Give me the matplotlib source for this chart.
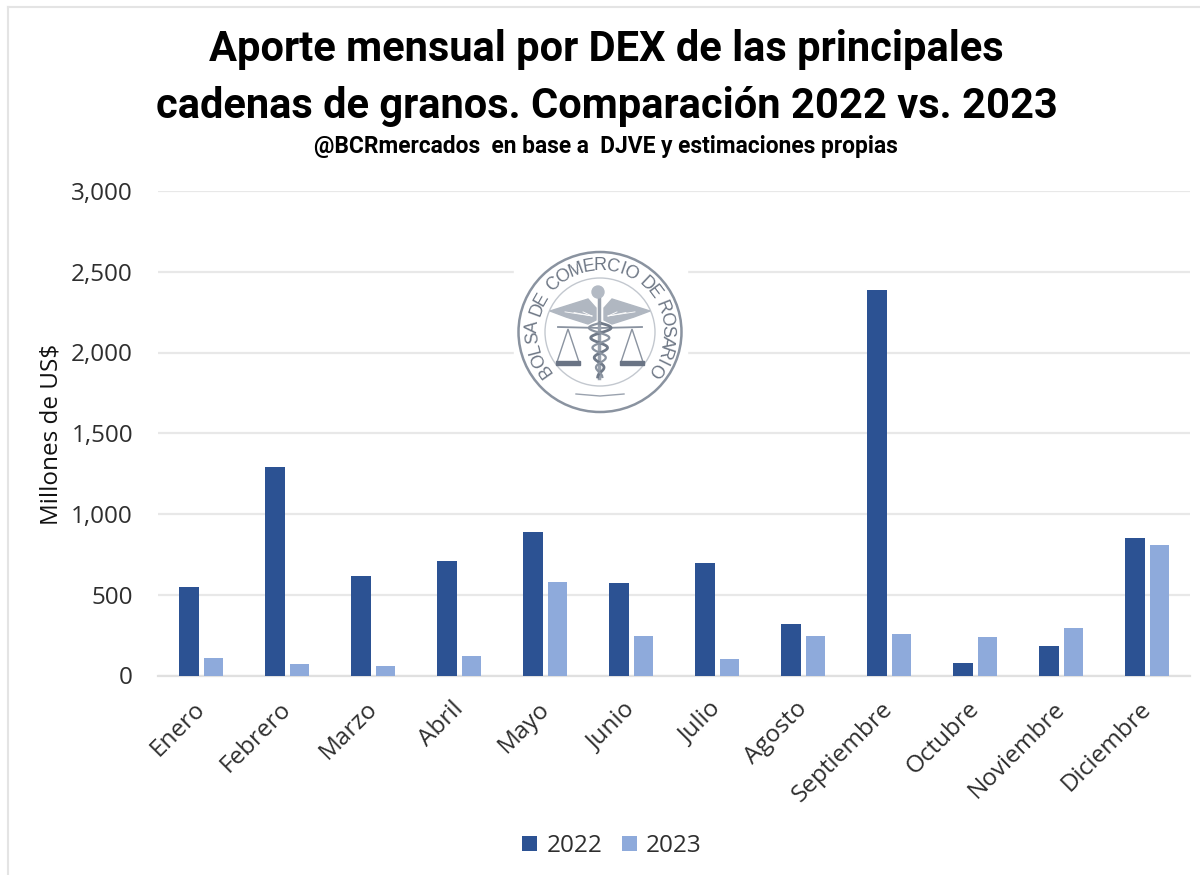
import numpy as np
import matplotlib
matplotlib.use("Agg")
import matplotlib.pyplot as plt
from matplotlib.patches import Circle, Polygon, Rectangle, Ellipse
from matplotlib.transforms import ScaledTranslation

# Data
meses = ["Enero", "Febrero", "Marzo", "Abril", "Mayo", "Junio", "Julio", "Agosto",
         "Septiembre", "Octubre", "Noviembre", "Diciembre"]
valores_2022 = [548, 1290, 616, 709, 889, 573, 697, 319, 2387, 77, 183, 851]
valores_2023 = [108, 70, 58, 120, 579, 244, 100, 244, 255, 238, 294, 808]
ticks_y = [0, 500, 1000, 1500, 2000, 2500, 3000]

titulo = "Aporte mensual por DEX de las principales\ncadenas de granos. Comparación 2022 vs. 2023"
subtitulo = "@BCRmercados  en base a  DJVE y estimaciones propias"
texto_sello = "BOLSA DE COMERCIO DE ROSARIO"

W, H = 1200, 875
TEXTO = "#2e2e2e"
fig = plt.figure(figsize=(W / 100, H / 100), dpi=100, facecolor="white")

# Main chart
ax = fig.add_axes([158 / W, 1 - 675.5 / H, 1032 / W, 484.5 / H])
x = np.arange(len(meses))
ax.bar(x - 0.145, valores_2022, 0.233, color="#2c5293", label="2022", zorder=3)
ax.bar(x + 0.145, valores_2023, 0.218, color="#8eaadb", label="2023", zorder=3)
ax.set_xlim(-0.5, 11.5)
ax.set_ylim(0, 3000)
ax.set_yticks(ticks_y)
ax.set_yticklabels([f"{v:,}" for v in ticks_y], family="Open Sans", fontsize=17.5, color=TEXTO)
ax.set_xticks(x)
ax.set_xticklabels(meses, family="Open Sans", fontsize=17.5, color=TEXTO, rotation=45,
                   ha="right", rotation_mode="anchor")
ax.tick_params(axis="both", length=0)
ax.tick_params(axis="y", pad=18)
ax.tick_params(axis="x", pad=12)
# tick_params resets the label transform, so shift the month labels after it
offset = ScaledTranslation(-8 / 100, -5 / 100, fig.dpi_scale_trans)
for lab in ax.get_xticklabels():
    lab.set_transform(lab.get_transform() + offset)
ax.grid(axis="y", color="#e8e8e8", lw=1.6, zorder=0)
ax.set_axisbelow(True)
for s in ["top", "right", "left"]:
    ax.spines[s].set_visible(False)
ax.spines["bottom"].set_color("#e0e0e0")
ax.spines["bottom"].set_linewidth(1.6)
ax.set_ylabel("Millones de US$", family="Open Sans", fontsize=17.5, color="#111111")
ax.yaxis.set_label_coords(64 / 1032 - 158 / 1032, (675.5 - 434) / 484.5)

ax.legend(loc="center", bbox_to_anchor=(612 / 1032 - 158 / 1032, -(846 - 675.5) / 484.5),
          ncol=2, frameon=False, prop={"family": "Open Sans", "size": 17.5}, labelcolor=TEXTO,
          handlelength=0.62, handleheight=0.62, handletextpad=0.38, columnspacing=0.8)

# Overlay in pixel coordinates for the frame, titles and seal
ov = fig.add_axes([0, 0, 1, 1], facecolor="none", zorder=5)
ov.set_xlim(0, W)
ov.set_ylim(H, 0)
ov.axis("off")
ov.plot([7.5, 7.5], [7, H], color="#e4e4e4", lw=1.5)
ov.plot([7.5, W], [7, 7], color="#e4e4e4", lw=1.5)

ov.text(606.5, 78, titulo, family="Roboto", weight="bold", fontsize=30, ha="center", va="center",
        color="black", linespacing=1.48)
ov.text(606, 147, subtitulo, family="Roboto", weight="bold", fontsize=16.4, ha="center", va="center",
        color="black")

# Seal
CX, CY = 600, 332
ov.add_patch(Rectangle((514, 254), 173, 160, color="white", zorder=6))
ov.add_patch(Ellipse((CX, CY), 163, 160, fill=False, ec="#8a93a0", lw=1.8, zorder=7))
ov.add_patch(Ellipse((CX, CY), 110, 108, fill=False, ec="#c3c8cf", lw=1.0, zorder=7))
pesos = np.array([0.6 if c in " I" else 1.4 if c == "M" else 1.15 if c in "OC" else 1.0
                  for c in texto_sello])
acum = np.cumsum(pesos) - pesos / 2
angulos = -130 + 260 * acum / pesos.sum()
for letra, a in zip(texto_sello, angulos):
    r = np.radians(a)
    ov.text(CX + 67 * np.sin(r), CY - 66 * np.cos(r), letra, rotation=-a, family="Liberation Sans",
            fontsize=13, color="#6f7886", ha="center", va="center", rotation_mode="anchor", zorder=8)
for lado in (-1, 1):
    # wings with feather lines
    ov.add_patch(Polygon([(CX - lado * 4, 308), (CX - lado * 12, 299), (CX - lado * 50, 311),
                          (CX - lado * 34, 317), (CX - lado * 12, 324), (CX - lado * 4, 320)],
                         color="#b0b7c1", zorder=7))
    for k in (0.25, 0.5, 0.75):
        ov.plot([CX - lado * 8, CX - lado * (8 + 36 * k)], [316, 310 + 10 * k * (1 - k)],
                color="white", lw=0.6, zorder=7)
    # scales
    bx = CX + lado * 32
    ov.plot([CX, CX + lado * 42], [328, 327], color="#8a93a0", lw=1.3, zorder=7)
    ov.add_patch(Polygon([(bx, 329), (bx - 11, 362), (bx + 11, 362)], fill=False, ec="#8a93a0", lw=1, zorder=7))
    ov.add_patch(Rectangle((bx - 12, 361), 24, 3.5, color="#6a7485", zorder=7))
# staff and snake
ov.plot([CX - 1, CX - 1], [296, 378], color="#9aa2ae", lw=2.5, zorder=7)
ov.add_patch(Circle((CX - 2, 292), 6, color="#b3bac4", zorder=7))
t = np.linspace(0, 1, 60)
ov.plot(CX + 12 * (1 - 0.8 * t) * np.sin(t * 17), 323 + 54 * t, color="#6f7988", lw=2, zorder=7)
ov.plot(CX - 12 * (1 - 0.8 * t) * np.sin(t * 17), 323 + 54 * t, color="#8a93a0", lw=1.6, zorder=7)
ov.plot([576, 600, 624], [394, 396, 394], color="#9aa2ae", lw=1, zorder=7)

fig.savefig("out.png", dpi=100)
